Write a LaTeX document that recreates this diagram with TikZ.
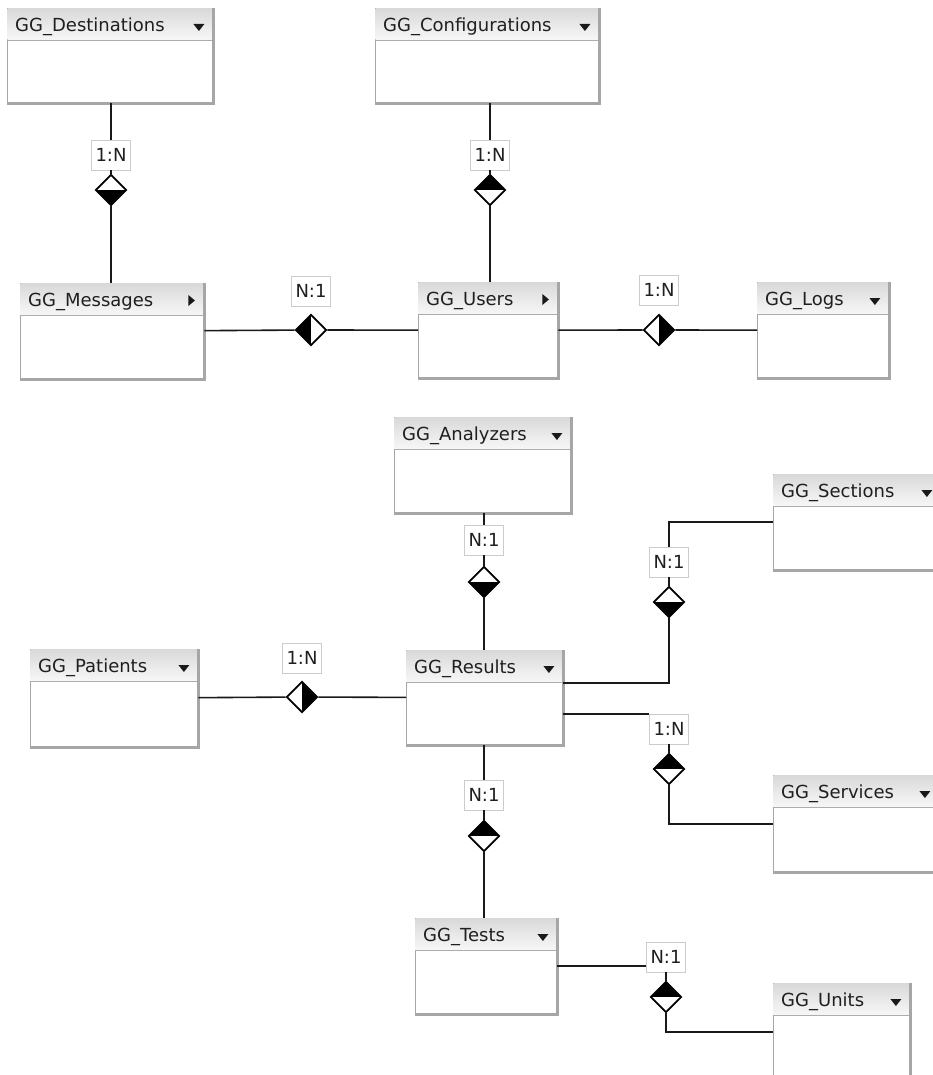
\documentclass[tikz,border=0pt]{standalone}
\usepackage{fontspec}
\setmainfont{DejaVu Sans}
\usetikzlibrary{shapes.geometric}

\def\gghead{32}
\tikzset{
  ggbox/.style={draw=gray!70, line width=1.4pt, fill=white, inner sep=0pt},
  ggtitle/.style={font=\fontsize{18}{21}\selectfont, text=black!88, inner sep=0pt},
  ggcard/.style={draw=gray!40, line width=0.6pt, fill=white, font=\fontsize{18}{21}\selectfont,
    text=black!88, inner xsep=4pt, inner ysep=0pt, minimum height=30pt},
  gglink/.style={line width=1.6pt, black!90},
  ggdia/.style={diamond, draw=black, line width=1.8pt, fill=white, inner sep=0pt,
    minimum width=31pt, minimum height=31pt},
  filltop/.style={ggdia, path picture={\fill[black] (path picture bounding box.north west) rectangle (path picture bounding box.east);}},
  fillbottom/.style={ggdia, path picture={\fill[black] (path picture bounding box.west) rectangle (path picture bounding box.south east);}},
  fillleft/.style={ggdia, path picture={\fill[black] (path picture bounding box.north west) rectangle (path picture bounding box.south);}},
  fillright/.style={ggdia, path picture={\fill[black] (path picture bounding box.north) rectangle (path picture bounding box.south east);}},
}

% table box: name, left, top, width, height, title
\newcommand{\ggtable}[6]{%
  \node[ggbox, anchor=north west, minimum width=#4pt, minimum height=#5pt] (#1) at (#2,#3) {};
  \fill[top color=gray!30, bottom color=gray!6] ([shift={(0.7pt,-0.7pt)}]#1.north west) rectangle ([shift={(-0.7pt,-\gghead pt)}]#1.north east);
  \draw[gray!65, line width=0.8pt] ([yshift=-\gghead pt]#1.north west) -- ([yshift=-\gghead pt]#1.north east);
  \draw[gray!70, line width=3pt] (#1.north east) -- (#1.south east) -- (#1.south west);
  \node[ggtitle, anchor=west] (#1-title) at ([shift={(8pt,-19pt)}]#1.north west) {#6};
}
\newcommand{\ggdown}[1]{\fill[black!90] ([shift={(-20pt,-16pt)}]#1.north east) -- ++(11pt,0) -- ++(-5.5pt,-7pt) -- cycle;}
\newcommand{\ggright}[1]{\fill[black!90] ([shift={(-16pt,-12pt)}]#1.north east) -- ++(0,-11pt) -- ++(6.5pt,5.5pt) -- cycle;}

\begin{document}
\begin{tikzpicture}[x=1pt, y=-1pt]
  \clip (0,0) rectangle (933,1075);
  \fill[white] (0,0) rectangle (933,1075);

  % tables
  \ggtable{dest}{7}{8}{205}{94}{GG\_Destinations}      \ggdown{dest}
  \ggtable{conf}{375}{8}{223}{94}{GG\_Configurations}  \ggdown{conf}
  \ggtable{msg}{20}{283}{183}{95}{GG\_Messages}        \ggright{msg}
  \ggtable{users}{418}{282}{139}{95}{GG\_Users}        \ggright{users}
  \ggtable{logs}{757}{282}{131}{95}{GG\_Logs}          \ggdown{logs}
  \ggtable{ana}{394}{417}{176}{95}{GG\_Analyzers}      \ggdown{ana}
  \ggtable{sec}{773}{474}{167}{95}{GG\_Sections}       \ggdown{sec}
  \ggtable{pat}{30}{649}{167}{97}{GG\_Patients}        \ggdown{pat}
  \ggtable{res}{406}{650}{156}{94}{GG\_Results}        \ggdown{res}
  \ggtable{svc}{773}{775}{165}{96}{GG\_Services}       \ggdown{svc}
  \ggtable{tests}{415}{918}{141}{95}{GG\_Tests}        \ggdown{tests}
  \ggtable{units}{773}{983}{136}{96}{GG\_Units}        \ggdown{units}

  % cardinalities
  \node[ggcard] (destlab) at (111,155) {1:N};
  \node[fillbottom] (destdia) at (111,190) {};
  \node[ggcard] (conflab) at (490,155) {1:N};
  \node[filltop] (confdia) at (490,190) {};
  \node[ggcard] (msglab) at (311,291) {N:1};
  \node[fillleft] (msgdia) at (311,330) {};
  \node[ggcard] (logslab) at (659,290) {1:N};
  \node[fillright] (logsdia) at (659,330) {};
  \node[ggcard] (analab) at (484,540) {N:1};
  \node[fillbottom] (anadia) at (484,582) {};
  \node[ggcard] (seclab) at (669,562) {N:1};
  \node[fillbottom] (secdia) at (669,602) {};
  \node[ggcard] (patlab) at (302,658) {1:N};
  \node[fillright] (patdia) at (302,697) {};
  \node[ggcard] (svclab) at (669,729) {1:N};
  \node[filltop] (svcdia) at (669,769) {};
  \node[ggcard] (testlab) at (484,795) {N:1};
  \node[filltop] (testdia) at (484,836) {};
  \node[ggcard] (unitlab) at (666,957) {N:1};
  \node[filltop] (unitdia) at (666,997) {};
  \coordinate (secbend) at (669,683);

  % relations
  \draw[gglink] (dest.south -| destlab) -- (destlab) -- (destdia) -- (msg.north -| destdia);
  \draw[gglink] (conf.south -| conflab) -- (conflab) -- (confdia) -- (users.north -| confdia);
  \draw[gglink] (msg) -- (msgdia) -- (users);
  \draw[gglink] (users) -- (logsdia) -- (logs);
  \draw[gglink] (ana.south -| analab) -- (analab) -- (anadia) -- (res.north -| anadia);
  \draw[gglink] (res.east |- secbend) -- (secbend) -- (secdia) -- (seclab) |- (sec.west);
  \draw[gglink] (pat) -- (patdia) -- (res);
  \draw[gglink] (res.east |- svclab.north west) -- (svclab.north west);
  \draw[gglink] (svclab) -- (svcdia) |- (svc.west);
  \draw[gglink] (res.south -| testlab) -- (testlab) -- (testdia) -- (tests.north -| testdia);
  \draw[gglink] (tests.east) -- (tests.east -| unitlab.west);
  \draw[gglink] (unitlab) -- (unitdia) |- (units.west);
\end{tikzpicture}
\end{document}
